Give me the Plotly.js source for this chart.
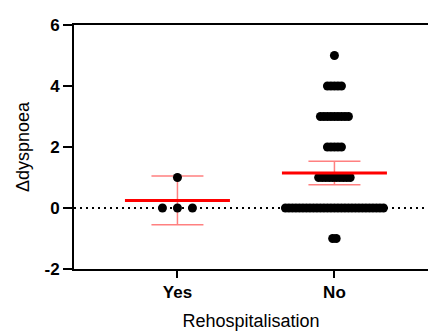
<!DOCTYPE html>
<html>
<head>
<meta charset="utf-8">
<script src="https://cdn.plot.ly/plotly-3.0.1.min.js"></script>
<style>
  html, body { margin: 0; padding: 0; background: #ffffff; }
  #chart { width: 428px; height: 331px; }
</style>
</head>
<body>
<div id="chart"></div>
<script>
// Groups on the x axis
const categories = ['Yes', 'No'];

// Change in dyspnoea score for each patient, by rehospitalisation status
const yesValues = [0, 0, 0, 1];
const noValues = [
  5,
  4, 4, 4, 4, 4,
  3, 3, 3, 3, 3, 3, 3, 3, 3,
  2, 2, 2, 2, 2,
  1, 1, 1, 1, 1, 1, 1, 1, 1, 1,
  0, 0, 0, 0, 0, 0, 0, 0, 0, 0, 0, 0, 0, 0, 0, 0, 0, 0, 0, 0, 0, 0, 0, 0, 0, 0, 0, 0, 0,
  -1, -1
];

// Two-sided 95% t critical values for n-1 degrees of freedom (n = 4, n = 61)
const tCritical = [3.182, 2.000];

const groups = [yesValues, noValues];

// Plot geometry used to spread equal values side by side
const W = 428, H = 331;
const margin = { l: 74, r: 0, t: 25, b: 62 };
const xRange = [-0.659, 1.596];
const pxPerUnit = (W - margin.l - margin.r) / (xRange[1] - xRange[0]);
const dotGapPx = [15, 3.5];

// Scatter positions: points with the same value sit in a centred row
const dotX = [], dotY = [];
groups.forEach((vals, gi) => {
  const counts = {};
  vals.forEach(v => { counts[v] = (counts[v] || 0) + 1; });
  Object.keys(counts).forEach(k => {
    const n = counts[k];
    for (let i = 0; i < n; i++) {
      dotX.push(gi + (i - (n - 1) / 2) * dotGapPx[gi] / pxPerUnit);
      dotY.push(Number(k));
    }
  });
});

// Mean and 95% confidence interval of each group
const means = groups.map(v => v.reduce((a, b) => a + b, 0) / v.length);
const ciHalf = groups.map((v, i) => {
  const m = means[i];
  const sd = Math.sqrt(v.reduce((a, b) => a + (b - m) * (b - m), 0) / (v.length - 1));
  return tCritical[i] * sd / Math.sqrt(v.length);
});

const FONT = 'Liberation Sans, Arial, sans-serif';

const traces = [
  {
    type: 'scatter', mode: 'markers',
    x: [0, 1], y: means,
    marker: { size: 1, opacity: 0 },
    error_y: { type: 'data', array: ciHalf, visible: true, width: 26, thickness: 1.5, color: '#ff8080' },
    hoverinfo: 'skip', showlegend: false
  },
  {
    type: 'scatter', mode: 'markers',
    x: dotX, y: dotY,
    marker: { size: 9, color: '#000000', line: { width: 0 } },
    showlegend: false
  },
  {
    // horizontal mean bar (line-ew spans 1.4 x marker size)
    type: 'scatter', mode: 'markers',
    x: [0, 1], y: means,
    marker: { symbol: 'line-ew', size: 75, color: '#ff0000', line: { width: 3, color: '#ff0000' } },
    showlegend: false
  }
];

const layout = {
  width: W, height: H,
  margin: margin,
  paper_bgcolor: '#ffffff',
  plot_bgcolor: '#ffffff',
  showlegend: false,
  font: { family: FONT, color: '#000000' },
  xaxis: {
    range: xRange,
    tickmode: 'array', tickvals: [0, 1], ticktext: categories,
    showline: true, linewidth: 2, linecolor: '#000000', mirror: true,
    ticks: 'outside', ticklen: 7, tickwidth: 2, tickcolor: '#000000',
    showgrid: false, zeroline: false,
    tickfont: { family: FONT, size: 17, weight: 700, color: '#000000' },
    title: { text: 'Rehospitalisation', font: { family: FONT, size: 18, color: '#000000' }, standoff: 13 },
    automargin: false
  },
  yaxis: {
    range: [-2, 6],
    tickmode: 'array', tickvals: [-2, 0, 2, 4, 6], ticktext: ['-2', '0', '2', '4', '6'],
    showline: true, linewidth: 2, linecolor: '#000000',
    ticks: 'outside', ticklen: 9, tickwidth: 2, tickcolor: '#000000',
    showgrid: false, zeroline: false,
    tickfont: { family: FONT, size: 17, weight: 700, color: '#000000' },
    title: { text: 'Δdyspnoea', font: { family: FONT, size: 18, color: '#000000' }, standoff: 10 },
    automargin: false
  },
  shapes: [
    {
      type: 'line', layer: 'below',
      xref: 'paper', x0: 0, x1: 1,
      yref: 'y', y0: 0, y1: 0,
      line: { color: '#000000', width: 2, dash: '2px,4px' }
    }
  ]
};

Plotly.newPlot('chart', traces, layout, { staticPlot: true, displayModeBar: false });
</script>
</body>
</html>
